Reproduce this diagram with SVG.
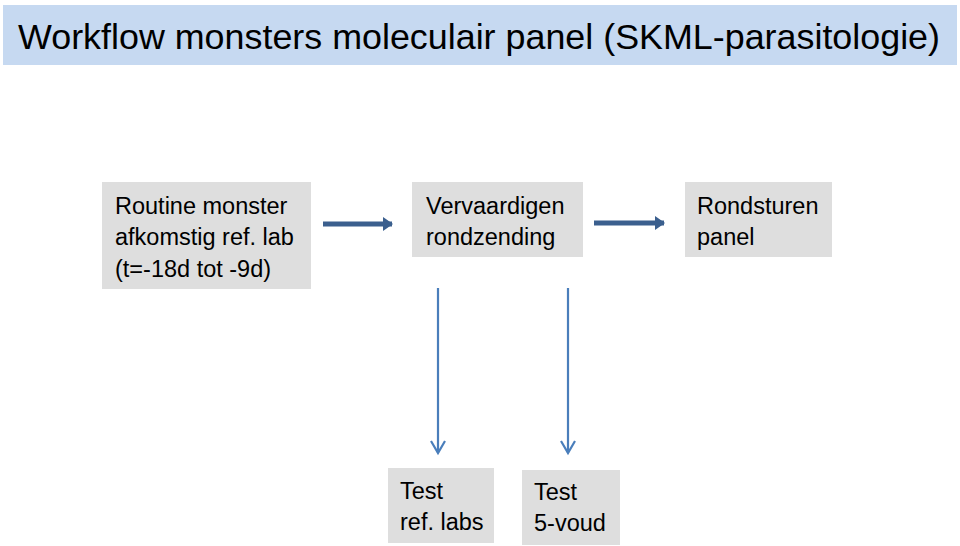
<svg xmlns="http://www.w3.org/2000/svg" width="960" height="546" viewBox="0 0 960 546">
<style>
.box{fill:#dedede}
.t{font-family:"Liberation Sans",Arial,sans-serif;font-size:23.5px;fill:#000}
.thick{stroke:#3b5f8e;stroke-width:5;fill:none}
.thin{stroke:#4a7ebb;stroke-width:2.2;fill:none}
</style>
<defs>
<marker id="ah" markerUnits="userSpaceOnUse" markerWidth="12" markerHeight="14" refX="9" refY="7" orient="auto">
<path d="M0,0 L10,7 L0,14 Z" fill="#3b5f8e"/>
</marker>
<marker id="ov" markerUnits="userSpaceOnUse" markerWidth="18" markerHeight="18" refX="13" refY="8" orient="auto">
<path d="M1,1 L13,8 L1,15" fill="none" stroke="#4a7ebb" stroke-width="2.2"/>
</marker>
</defs>
<rect x="0" y="0" width="960" height="546" fill="#fff"/>
<g id="title">
<rect x="3" y="5" width="954" height="60" fill="#c6d9f1"/>
<text x="18" y="49" font-family="'Liberation Sans',Arial,sans-serif" font-size="35" textLength="922" lengthAdjust="spacingAndGlyphs">Workflow monsters moleculair panel (SKML-parasitologie)</text>
</g>
<g id="n1">
<rect class="box" x="102" y="182" width="209" height="107"/>
<text class="t" x="115" y="214">Routine monster</text>
<text class="t" x="115" y="245">afkomstig ref. lab</text>
<text class="t" x="115" y="277">(t=-18d tot -9d)</text>
</g>
<g id="n2">
<rect class="box" x="412" y="182" width="171" height="75"/>
<text class="t" x="426" y="214">Vervaardigen</text>
<text class="t" x="426" y="245">rondzending</text>
</g>
<g id="n3">
<rect class="box" x="685" y="182" width="147" height="75"/>
<text class="t" x="697" y="214">Rondsturen</text>
<text class="t" x="697" y="245">panel</text>
</g>
<g id="n4">
<rect class="box" x="388" y="468" width="106" height="75"/>
<text class="t" x="400" y="499">Test</text>
<text class="t" x="400" y="530">ref. labs</text>
</g>
<g id="n5">
<rect class="box" x="522" y="470" width="98" height="75"/>
<text class="t" x="534" y="500">Test</text>
<text class="t" x="534" y="531">5-voud</text>
</g>
<g id="connectors">
<line class="thick" x1="323" y1="224" x2="392" y2="224" marker-end="url(#ah)"/>
<line class="thick" x1="594" y1="223" x2="664" y2="223" marker-end="url(#ah)"/>
<line class="thin" x1="438" y1="288" x2="438" y2="453" marker-end="url(#ov)"/>
<line class="thin" x1="568" y1="288" x2="568" y2="453" marker-end="url(#ov)"/>
</g>
</svg>
